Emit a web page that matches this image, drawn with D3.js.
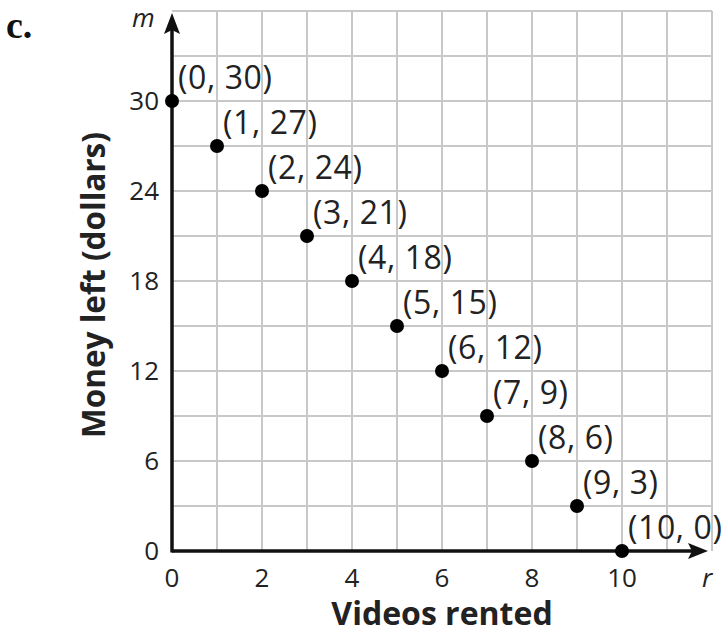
<!DOCTYPE html>
<html>
<head>
<meta charset="utf-8">
<script src="https://cdn.jsdelivr.net/npm/d3@7"></script>
<style>
  body { margin: 0; background: #fff; }
  svg { display: block; }
</style>
</head>
<body>
<svg width="726" height="634"></svg>
<script>
// Data
const videos = [0, 1, 2, 3, 4, 5, 6, 7, 8, 9, 10];
const moneyLeft = [30, 27, 24, 21, 18, 15, 12, 9, 6, 3, 0];
const xTicks = [0, 2, 4, 6, 8, 10];
const yTicks = [0, 6, 12, 18, 24, 30];

const svg = d3.select('svg');
const origin = { x: 172, y: 551 };

// Scales: grid runs to 12 across and 36 up
const xScale = d3.scaleLinear().domain([0, 12]).range([origin.x, 712]);
const yScale = d3.scaleLinear().domain([0, 36]).range([origin.y, 11]);

const grid = svg.append('g').attr('stroke', '#c8c8c8').attr('stroke-width', 2);

// vertical grid lines, one per unit
grid.selectAll('line.v')
    .data(d3.range(1, 13))
    .join('line')
    .attr('x1', d => xScale(d)).attr('x2', d => xScale(d))
    .attr('y1', yScale(0)).attr('y2', yScale(36));

// horizontal grid lines, every 3 dollars
grid.selectAll('line.h')
    .data(d3.range(3, 39, 3))
    .join('line')
    .attr('x1', xScale(0)).attr('x2', xScale(12))
    .attr('y1', d => yScale(d)).attr('y2', d => yScale(d));

// Axes with arrowheads
const axes = svg.append('g').attr('stroke', '#111').attr('stroke-width', 3.5);
axes.append('line')
    .attr('x1', xScale(0)).attr('x2', 694)
    .attr('y1', yScale(0)).attr('y2', yScale(0));
axes.append('line')
    .attr('x1', xScale(0)).attr('x2', xScale(0))
    .attr('y1', yScale(0) + 1.5).attr('y2', 30);

svg.append('path')
    .attr('d', `M708,${yScale(0)} L688,${yScale(0) - 8} L692,${yScale(0)} L688,${yScale(0) + 8} Z`)
    .attr('fill', '#111');
svg.append('path')
    .attr('d', `M${xScale(0)},13 L${xScale(0) - 8},34 L${xScale(0)},30 L${xScale(0) + 8},34 Z`)
    .attr('fill', '#111');

const tickFont = 'Open Sans, sans-serif';

// Tick labels
svg.append('g').selectAll('text')
    .data(yTicks)
    .join('text')
    .attr('x', 159)
    .attr('y', d => yScale(d))
    .attr('dy', '0.36em')
    .attr('text-anchor', 'end')
    .style('font-family', tickFont)
    .style('font-size', '26px')
    .attr('fill', '#222')
    .text(d => d);

svg.append('g').selectAll('text')
    .data(xTicks)
    .join('text')
    .attr('x', d => xScale(d))
    .attr('y', 587)
    .attr('text-anchor', 'middle')
    .style('font-family', tickFont)
    .style('font-size', '26px')
    .attr('fill', '#222')
    .text(d => d);

// Variable names at the arrow ends
svg.append('text')
    .attr('x', 132).attr('y', 27)
    .style('font-family', tickFont).style('font-size', '26px').style('font-style', 'italic')
    .attr('fill', '#222')
    .text('m');
svg.append('text')
    .attr('x', 702).attr('y', 587)
    .style('font-family', tickFont).style('font-size', '26px').style('font-style', 'italic')
    .attr('fill', '#222')
    .text('r');

// Axis titles
svg.append('text')
    .attr('x', 442).attr('y', 625)
    .attr('text-anchor', 'middle')
    .style('font-family', tickFont).style('font-size', '32px').style('font-weight', 'bold')
    .attr('fill', '#222')
    .text('Videos rented');
svg.append('text')
    .attr('transform', `translate(105,285) rotate(-90)`)
    .attr('text-anchor', 'middle')
    .style('font-family', tickFont).style('font-size', '31.5px').style('font-weight', 'bold')
    .attr('fill', '#222')
    .text('Money left (dollars)');

// Panel letter
svg.append('text')
    .attr('x', 6).attr('y', 38)
    .style('font-family', 'Liberation Serif, serif').style('font-size', '38px').style('font-weight', 'bold')
    .attr('fill', '#111')
    .text('c.');

// Points and their labels
const points = videos.map((v, i) => [v, moneyLeft[i]]);

svg.append('g').selectAll('circle')
    .data(points)
    .join('circle')
    .attr('cx', d => xScale(d[0]))
    .attr('cy', d => yScale(d[1]))
    .attr('r', 7)
    .attr('fill', '#000');

svg.append('g').selectAll('text')
    .data(points)
    .join('text')
    .attr('x', d => xScale(d[0]) + 6)
    .attr('y', d => yScale(d[1]) - 12)
    .style('font-family', tickFont)
    .style('font-size', '32px')
    .style('letter-spacing', '0.6px')
    .attr('fill', '#222')
    .text(d => `(${d[0]}, ${d[1]})`);
</script>
</body>
</html>
